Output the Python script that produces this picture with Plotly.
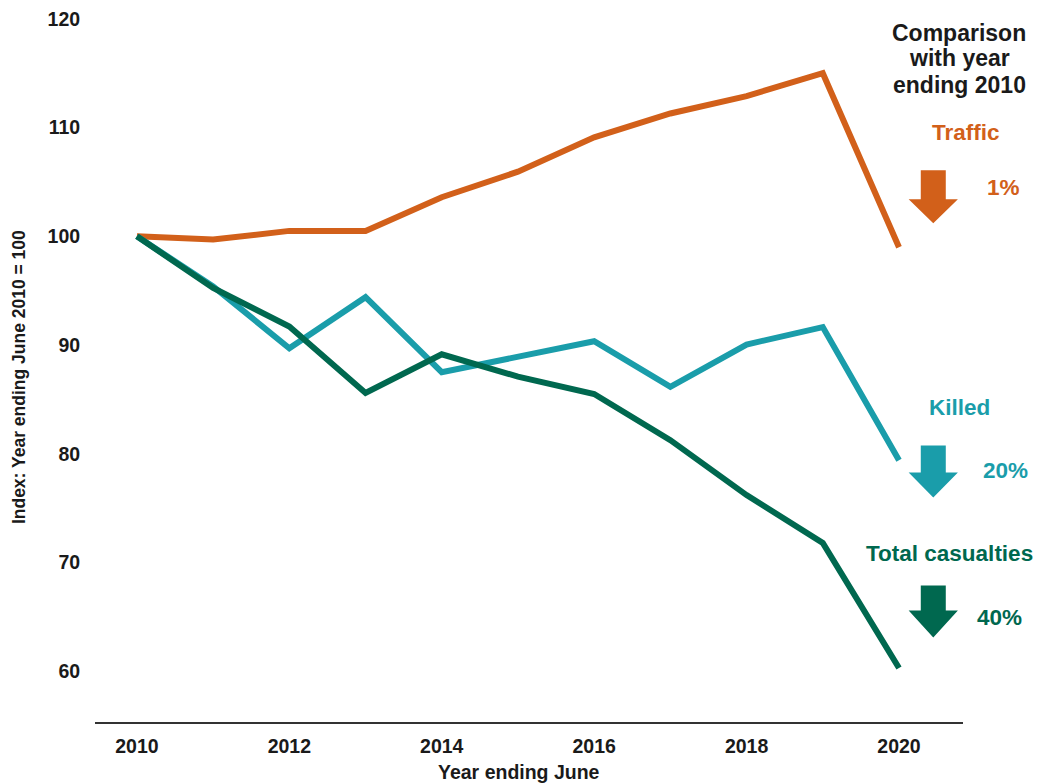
import plotly.graph_objects as go

years = list(range(2010, 2021))
traffic = [100.0, 99.7, 100.5, 100.5, 103.6, 105.95, 109.1, 111.3, 112.9, 115.0, 99.0]
killed = [100.0, 95.4, 89.7, 94.4, 87.5, 88.95, 90.35, 86.15, 90.05, 91.65, 79.4]
total = [100.0, 95.25, 91.7, 85.6, 89.15, 87.1, 85.5, 81.25, 76.2, 71.8, 60.3]

x_ticks = [2010, 2012, 2014, 2016, 2018, 2020]
y_ticks = [60, 70, 80, 90, 100, 110, 120]

ORANGE = "#D2601A"
TEAL = "#1A9DAA"
GREEN = "#00684F"
DARK = "#1a1a1a"
FONT = "Liberation Sans"

fig = go.Figure()
for name, vals, col in [("Traffic", traffic, ORANGE), ("Killed", killed, TEAL), ("Total casualties", total, GREEN)]:
    fig.add_trace(go.Scatter(x=years, y=vals, mode="lines", name=name,
                             line=dict(color=col, width=6), showlegend=False))

# Down arrows (data coordinates)
def down_arrow(cx, y_top, y_neck, y_tip, shaft_half=0.164, head_half=0.323):
    return (f"M {cx-shaft_half},{y_top} L {cx+shaft_half},{y_top} L {cx+shaft_half},{y_neck} "
            f"L {cx+head_half},{y_neck} L {cx},{y_tip} L {cx-head_half},{y_neck} "
            f"L {cx-shaft_half},{y_neck} Z")

arrow_x = 2020.45
for (yt, yn, ytip), col in [((106.07, 103.40, 101.20), ORANGE),
                           ((80.77, 78.28, 75.98), TEAL),
                           ((67.88, 65.58, 63.10), GREEN)]:
    fig.add_shape(type="path", path=down_arrow(arrow_x, yt, yn, ytip), xref="x", yref="y",
                  fillcolor=col, line=dict(width=0), layer="above")

def ann(text, x, y, color, size=22.5, **kw):
    fig.add_annotation(text=text, x=x, y=y, xref="paper", yref="paper", showarrow=False,
                       xanchor="center", yanchor="middle",
                       font=dict(family=FONT, size=size, color=color, weight="bold"), **kw)

ann("Comparison", 0.9954, 0.9651, DARK, size=23)
ann("with year", 0.9954, 0.9300, DARK, size=23)
ann("ending 2010", 0.9954, 0.8922, DARK, size=23)
ann("Traffic", 1.0035, 0.8250, ORANGE)
ann("1%", 1.0461, 0.7479, ORANGE)
ann("Killed", 0.9965, 0.4410, TEAL)
ann("20%", 1.0484, 0.3527, TEAL)
ann("Total casualties", 0.9850, 0.2364, GREEN)
ann("40%", 1.0426, 0.1467, GREEN)

ann("Index: Year ending June 2010 = 100", -0.0876, 0.483, DARK, size=17.5, textangle=-90)
ann("Year ending June", 0.489, -0.0705, DARK, size=19.5)

fig.update_xaxes(range=[2009.45, 2020.84], tickvals=x_ticks, ticktext=[str(v) for v in x_ticks],
                 showgrid=False, zeroline=False, showline=True, linecolor="#333333", linewidth=2,
                 ticks="outside", ticklen=6, tickcolor="rgba(0,0,0,0)",
                 tickfont=dict(family=FONT, size=19.5, color=DARK, weight="bold"))
fig.update_yaxes(range=[55.33, 121], tickvals=y_ticks, ticktext=[str(v) for v in y_ticks],
                 showgrid=False, zeroline=False, showline=False,
                 ticks="outside", ticklen=10, tickcolor="rgba(0,0,0,0)",
                 tickfont=dict(family=FONT, size=19.5, color=DARK, weight="bold"))

fig.update_layout(width=1038, height=783, margin=dict(l=95, r=75, t=8, b=61),
                  plot_bgcolor="white", paper_bgcolor="white")

fig.write_html("out.html")
